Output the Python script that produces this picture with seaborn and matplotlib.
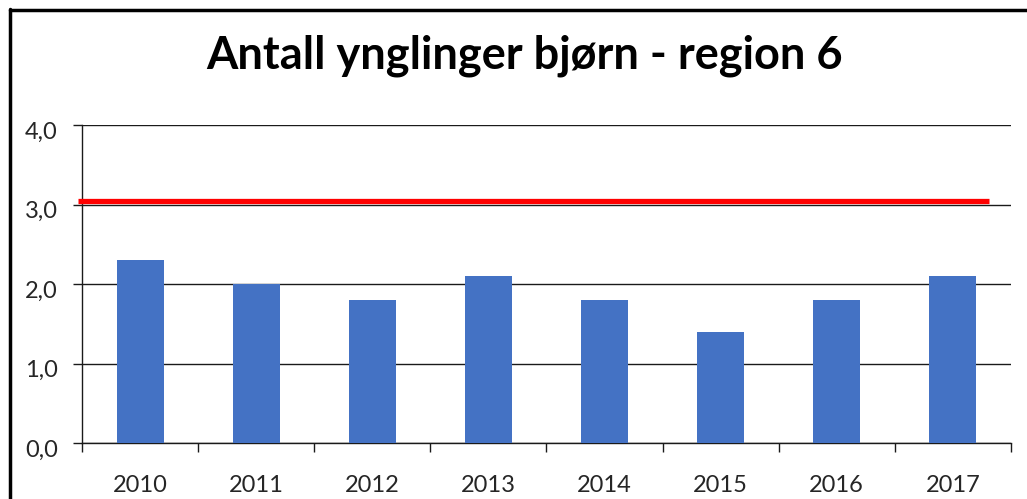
import matplotlib
matplotlib.use("Agg")
import matplotlib.pyplot as plt
import matplotlib.transforms as mtransforms
from matplotlib.lines import Line2D
import seaborn as sns
import pandas as pd

# ---- data ----
years = ["2010", "2011", "2012", "2013", "2014", "2015", "2016", "2017"]
ynglinger = [2.3, 2.0, 1.8, 2.1, 1.8, 1.4, 1.8, 2.1]
target_value = 3.05
target_span = [-0.53, 7.31]
y_ticks = [0.0, 1.0, 2.0, 3.0, 4.0]
y_tick_labels = ["0,0", "1,0", "2,0", "3,0", "4,0"]
title = "Antall ynglinger bjørn - region 6"

sns.set_theme(style="white")
plt.rcParams["font.family"] = ["Lato", "DejaVu Sans"]

df = pd.DataFrame({"year": years, "value": ynglinger})

fig = plt.figure(figsize=(10.27, 4.99), dpi=100)
ax = fig.add_axes([0.0798, 0.1122, 0.9046, 0.6373])

sns.barplot(data=df, x="year", y="value", color="#4472C4", width=0.405,
            saturation=1, linewidth=0, ax=ax, zorder=3)

ax.set_xlim(-0.5, len(years) - 0.5)
ax.set_ylim(0, 4)

# gridlines
ax.set_yticks(y_ticks)
ax.set_yticklabels(y_tick_labels, fontsize=17)
ax.yaxis.grid(True, color="#1a1a1a", linewidth=1.0, zorder=0)
ax.set_axisbelow(True)

# target line
ax.hlines(target_value, target_span[0], target_span[1], colors="#FF0000",
          linewidth=3.8, zorder=4, clip_on=False)

# spines
for s in ["top", "right"]:
    ax.spines[s].set_visible(False)
for s in ["left", "bottom"]:
    ax.spines[s].set_color("#1a1a1a")
    ax.spines[s].set_linewidth(1.0)

# x ticks: labels centred, tick marks at boundaries
ax.set_xticks(range(len(years)))
ax.set_xticklabels(years, fontsize=17)
ax.set_xticks([i - 0.5 for i in range(len(years) + 1)], minor=True)
ax.tick_params(axis="x", which="major", length=0, pad=23)
ax.tick_params(axis="x", which="minor", length=6.5, width=1.0, color="#1a1a1a",
               direction="out", bottom=True)
ax.tick_params(axis="y", which="major", length=6.5, width=1.0, color="#1a1a1a",
               direction="out", left=True, pad=11)
ax.set_xlabel("")
ax.set_ylabel("")

# shift y labels slightly down like the original
offset = mtransforms.ScaledTranslation(0, -5 / 100, fig.dpi_scale_trans)
for lbl in ax.get_yticklabels():
    lbl.set_transform(lbl.get_transform() + offset)

fig.text(0.511, 0.889, title, ha="center", va="center", fontsize=32.5,
         fontweight="bold", color="black")

# chart frame (top and left visible)
fig.add_artist(Line2D([9.5 / 1027, 1.0], [1 - 10 / 499, 1 - 10 / 499],
                      transform=fig.transFigure, color="black", linewidth=2.5))
fig.add_artist(Line2D([10 / 1027, 10 / 1027], [0.0, 1 - 9 / 499],
                      transform=fig.transFigure, color="black", linewidth=2.5))

fig.savefig("out.png", dpi=100, facecolor="white")
